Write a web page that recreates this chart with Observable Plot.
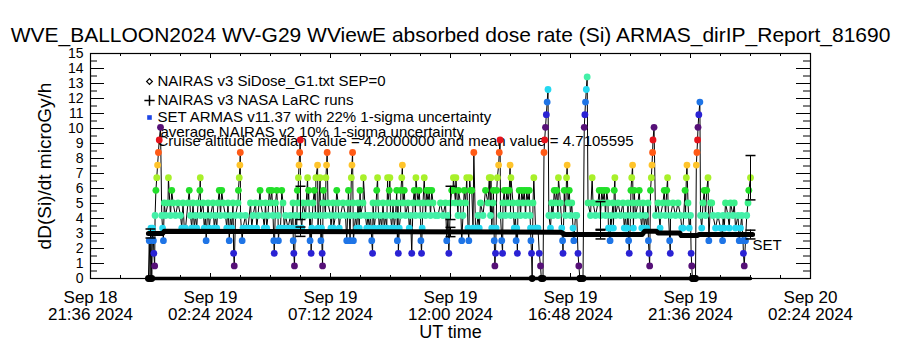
<!DOCTYPE html>
<html><head><meta charset="utf-8">
<script src="https://cdn.jsdelivr.net/npm/d3@7"></script>
<script src="https://cdn.jsdelivr.net/npm/@observablehq/plot@0.6"></script>
<style>
body{margin:0;background:#fff;}
#chart svg{display:block;}
</style></head><body><div id="chart"></div>
<script>
// ---------- texts ----------
const title = "WVE_BALLOON2024 WV-G29 WViewE absorbed dose rate (Si) ARMAS_dirIP_Report_81690";
const yLabel = "dD(Si)/dt microGy/h";
const xLabel = "UT time";
const legend1 = "NAIRAS v3 SiDose_G1.txt SEP=0";
const legend2 = "NAIRAS v3 NASA LaRC runs";
const legend3 = "SET ARMAS v11.37 with 22% 1-sigma uncertainty";
const legend4 = "average NAIRAS v2 10% 1-sigma uncertainty";
const legend5 = "Cruise altitude median value = 4.2000000 and mean value = 4.7105595";
const endLabel = "SET";

// ---------- axes ----------
const xStart = "2024-09-18T21:36Z", xEnd = "2024-09-20T02:24Z";
const majorTicks = ["2024-09-18T21:36Z","2024-09-19T02:24Z","2024-09-19T07:12Z","2024-09-19T12:00Z",
  "2024-09-19T16:48Z","2024-09-19T21:36Z","2024-09-20T02:24Z"];
const yTicks = [0,1,2,3,4,5,6,7,8,9,10,11,12,13,14,15];
const yMinorTicks = [0.5,1.5,2.5,3.5,4.5,5.5,6.5,7.5,8.5,9.5,10.5,11.5,12.5,13.5,14.5];

// ---------- ARMAS dose levels and their colours ----------
const levelDose  = [0, 0.84, 1.68, 2.52, 3.36, 4.2, 5.04, 5.88, 6.72, 7.56, 8.4, 9.24, 10.08, 10.92, 11.76, 12.6, 13.44];
const levelColor = ["#000000","#561078","#2a22d4","#1e74e6","#24d8f0","#44f0a8","#3af08a","#22e02a","#a8f02a","#ffc42a","#ff5a16","#e6141c",
                    "#561078","#2a22d4","#1e74e6","#24d8f0","#44f0a8"];

// ---------- ARMAS readings: [minutes after 2024-09-19 00:00 UT, dose µGy/h] ----------
const armas = [
[-5,0],[-3,2.52],[-1,0],[1,3.36],[3,0],[5,3.36],[7,2.52],[8,1.68],[10,0.84],[11,4.2],[13,5.88],[15,6.72],[17,7.56],[19,8.4],[21,9.24],[24,10.08],[27,4.2],[29,3.36],[31,2.52],[33,5.04],
[36,4.2],[42,5.04],[43,6.72],[48,4.2],[51,5.88],[54,5.04],[60,4.2],[66,5.04],[72,4.2],[75,3.36],[78,5.04],[81,3.36],[84,3.36],
[90,5.04],[93,5.88],[96,4.2],[99,3.36],[102,5.04],[105,3.36],[108,4.2],[111,3.36],[114,5.04],[118.5,5.88],[119.5,6.72],[120,4.2],[126,5.04],[129,3.36],[132,4.2],[133.5,2.52],[138,5.04],[141,3.36],[144,4.2],
[150,5.04],[153,3.36],[156,4.2],[159,3.36],[162,5.04],[165,5.88],[168,4.2],[171,5.88],[174,5.04],[180,4.2],[183,3.36],[186,5.04],[189,2.52],[192,4.2],[195,3.36],[198,5.04],[199.5,1.68],[201,0.84],[204,4.2],
[210,5.04],[211,5.88],[213,6.72],[214.5,7.56],[215.5,8.4],[216,4.2],[220,2.52],[222,3.36],[228,4.2],[231,3.36],[234,3.36],[240,5.04],[243,3.36],[246,4.2],[252,5.04],[255,3.36],[258,4.2],[263,5.88],[264,5.04],
[270,4.2],[273,3.36],[276,5.04],[279,3.36],[282,4.2],[285,5.88],[288,5.04],[291,5.88],[294,4.2],[296,2.52],[297,1.68],[300,5.04],[303,5.88],[306,4.2],[307,2.52],[309,3.36],[312,3.36],[315,5.88],[318,5.04],[321,3.36],[324,4.2],
[330,3.36],[336,4.2],[339,3.36],[342,5.04],[342.5,2.52],[344,1.68],[345.5,0.84],[348,4.2],[351,3.36],[352.5,5.88],[354,5.04],[355,6.72],[356.5,7.56],[358,8.4],[359.5,9.24],[360,4.2],[363,3.36],[366,5.04],[372,4.2],[377,6.72],[378,5.04],[379.5,5.88],[383,2.52],[384,4.2],[385.5,1.68],
[387,3.36],[390,5.04],[393,5.88],[396,4.2],[397,6.72],[401,7.56],[402,3.36],[407,6.72],[408,4.2],[409,2.52],[410.5,3.36],[412,1.68],[413,0.84],[414,5.04],[415,5.88],[420,4.2],[421,6.72],[422.5,7.56],[424,8.4],[426,5.04],[432,4.2],[433,3.36],[438,5.04],[439,3.36],[444,4.2],
[447,5.88],[450,5.04],[453,3.36],[456,4.2],[462,5.04],[468,4.2],[471,2.52],[474,5.04],[475,5.88],[479,2.52],[480,4.2],[482,6.72],[483.5,7.56],[485,8.4],[486,5.04],[487,2.52],[492,4.2],[495,3.36],[498,5.04],[501,3.36],[503,5.88],[504,4.2],
[510,5.04],[511,6.72],[516,4.2],[519,3.36],[522,4.2],[525,3.36],[528,4.2],[531,2.52],[533,1.68],[534,5.04],[537,3.36],[540,4.2],[543,5.88],[545,6.72],[546,5.04],[549,3.36],[552,4.2],[555,3.36],[558,5.04],[561,3.36],[564,4.2],
[567,3.36],[569,6.72],[570,5.04],[573,5.88],[574.5,6.72],[576,4.2],[579,3.36],[582,5.04],[585,3.36],[588,4.2],[591,5.88],[592.5,2.52],[594,5.04],[594.8,1.68],[597,3.36],[600,4.2],[601,5.88],[603,6.72],[604.5,7.56],[606,5.04],[609,5.88],[612,4.2],[618,5.04],[621,3.36],[624,4.2],
[627,1.68],[630,5.04],[633,5.88],[636,4.2],[637,6.72],[642,5.04],[645,5.88],[648,4.2],[649,2.52],[650.5,1.68],[652,3.36],[654,5.04],[657,6.72],[660,4.2],[663,5.88],[666,5.04],[669,5.88],[672,4.2],[675,5.88],[678,5.04],[684,4.2],
[690,4.2],[696,5.04],[702,4.2],[708,5.04],[711,2.52],[714,4.2],[716,1.68],[720,5.04],[723,5.88],[726,5.88],[727,6.72],[732,5.04],[733,6.72],[738,4.2],[739,5.88],[744,5.04],
[747,2.52],[750,4.2],[753,5.88],[756,5.04],[759,6.72],[762,3.36],[764,2.52],[766,6.72],[768,5.88],[771,5.88],[774,3.36],[776,8.4],[780,3.36],[783,3.36],[786,4.2],[789,3.36],[792,5.04],[798,4.2],[804,5.88],
[810,5.04],[813,6.72],[816,4.2],[817,6.72],[819,3.36],[822,5.04],[823,5.88],[825,2.52],[826.5,0.84],[828,1.68],[829.5,3.36],[831,5.88],[832.5,6.72],[835.5,7.56],[837,8.4],[839,9.24],[840,4.2],[843,2.52],[845,1.68],[846,5.04],[849,5.88],[852,4.2],[855,5.88],[858,5.04],[861,5.88],[863,7.56],[864,4.2],[865,6.72],
[870,5.04],[873,3.36],[876,4.2],[877.5,2.52],[879,3.36],[880.5,1.68],[882,5.04],[885,5.88],[888,4.2],[891,5.88],[894,5.04],[897,5.88],[900,4.2],[903,5.88],[906,5.04],[909,5.88],[911,4.2],[912,3.36],[913,2.52],[914.5,1.68],[916,0],[918,5.04],[920,6.72],[924,3.36],[927,3.36],
[930,3.36],[933,1.68],[936,0.84],[938,0],[942,0],[944.4,8.4],[946,9.24],[948,10.08],[950,10.92],[952,11.76],[954,12.6],[956,4.2],[960,3.36],[963,5.04],[966,4.2],[969,5.88],[972,5.04],[975,5.88],[978,4.2],[979,6.72],[984,5.04],
[987,3.36],[989,2.52],[990,1.68],[993,5.88],[996,4.2],[998.5,6.72],[1000,7.56],[1002,5.04],[1005,5.88],[1008,4.2],[1011,5.04],[1014,3.36],[1016,2.52],[1020,4.2],[1023,4.2],[1026,1.68],[1028,0.84],[1030.5,0],[1032,0],[1038,0],[1041,10.08],[1042.5,10.92],[1044,11.76],[1046,12.6],[1048,13.44],
[1050,5.04],[1056,4.2],[1060,6.72],[1062,5.04],[1068,4.2],[1074,5.04],[1077,5.88],[1080,4.2],[1083,5.88],[1086,5.04],[1089,5.88],[1092,4.2],[1095,5.88],[1098,5.04],[1099,3.36],[1103,2.52],[1104,4.2],[1105,3.36],
[1110,5.04],[1111,3.36],[1113,5.88],[1114.5,6.72],[1116,4.2],[1122,5.04],[1128,4.2],[1134,5.04],[1137,3.36],[1140,4.2],[1142,3.36],[1144,3.36],[1146,5.04],[1147.5,2.52],[1149,1.68],[1152,4.2],[1153,5.88],[1155,6.72],[1157,7.56],[1158,5.04],[1159,3.36],[1161,5.88],[1164,4.2],
[1170,5.04],[1173,5.88],[1176,4.2],[1179,3.36],[1182,5.04],[1185,3.36],[1188,4.2],[1191,3.36],[1194,5.04],[1195,2.52],[1196.5,1.68],[1198,0.84],[1200,5.88],[1202,6.72],[1203.5,7.56],[1205,8.4],[1206,9.24],[1208.5,10.08],[1212,4.2],[1218,5.04],[1223,3.36],[1224,4.2],
[1230,5.04],[1233,5.88],[1236,4.2],[1239,5.88],[1241,6.72],[1242,5.04],[1246,2.52],[1247.5,1.68],[1248,4.2],[1254,5.04],[1260,4.2],[1266,5.04],[1272,4.2],[1275,3.36],[1278,3.36],[1283,5.88],[1284,4.2],
[1286,6.72],[1287.5,7.56],[1290,5.04],[1293,3.36],[1296,4.2],[1297.5,1.68],[1299,0.84],[1300.5,0],[1302,0],[1305,0],[1308,0],[1310,7.56],[1311.5,8.4],[1313,9.24],[1314,10.08],[1316,10.92],[1318.5,11.76],[1320,4.2],[1323,3.36],[1326,5.04],[1329,5.88],[1332,4.2],[1335,5.88],[1338,6.72],[1340,2.52],[1344,5.04],
[1347,5.04],[1350,4.2],[1356,3.36],[1362,4.2],[1368,3.36],[1373,2.52],[1374,4.2],[1377,3.36],[1380,5.04],[1386,4.2],[1389,3.36],[1392,5.04],[1398,4.2],[1401,5.04],[1404,3.36],
[1410,4.2],[1413,2.52],[1416,3.36],[1419,4.2],[1422,2.52],[1423,1.68],[1425,0.84],[1428,2.52],[1431,4.2],[1434,5.04],[1436,5.88],[1440,6.72]
];

// ---------- NAIRAS v3 SiDose model: [minutes after 2024-09-19 00:00 UT, dose] ----------
const nairas = [[-5,3.0],[29,3.0],[33,3.15],[600,3.12],[985,3.08],[995,2.93],[1180,2.93],[1186,3.15],[1214,3.15],[1218,3.04],
  [1270,3.04],[1274,2.86],[1312,2.86],[1316,2.93],[1445,2.93]];
// ---------- NAIRAS v3 NASA LaRC runs ----------
const larcMinutes = [-5,60,120,180,240,300,360,420,480,540,600,660,720,780,840,900,960,1020,1080,1140,1200,1260,1320,1380,1440];
const larcDose    = [0,0,0,0,0,0,0,0,0,0,0,0,0,0,0,0,0,0,0,0,0,0,0,0,0];
// ---------- uncertainty bars ----------
const barMinutes    = [0, 360, 720, 1080, 1440];
const armasBarDose  = [0, 5.04, 5.04, 4.2, 6.72];
const nairasBarDose = [3.0, 3.12, 3.1, 2.93, 2.93];
const armasSigma = 0.22, nairasSigma = 0.10;

// ---------- build ----------
const base = Date.UTC(2024, 8, 19, 0, 0);
const toDate = m => new Date(base + m * 60000);
const armasData = armas.map(([m, v]) => ({t: toDate(m), v}));
const nairasData = nairas.map(([m, v]) => ({t: toDate(m), v}));
const larcData = larcMinutes.map((m, i) => ({t: toDate(m), v: larcDose[i]}));
const armasBars = barMinutes.map((m, i) => ({t: toDate(m), lo: armasBarDose[i] * (1 - armasSigma), hi: armasBarDose[i] * (1 + armasSigma)}));
const nairasBars = barMinutes.map((m, i) => ({t: toDate(m), lo: nairasBarDose[i] * (1 - nairasSigma), hi: nairasBarDose[i] * (1 + nairasSigma)}));
const majors = majorTicks.map(s => new Date(s));
const minors = [];
for (let i = 0; i < majors.length - 1; i++) for (let j = 1; j < 4; j++) minors.push(new Date(+majors[i] + j * (majors[i+1] - majors[i]) / 4));
const capSymbol = {draw(ctx, size) { const w = Math.sqrt(size / Math.PI); ctx.moveTo(-w, 0); ctx.lineTo(w, 0); }};
const lastN = nairasData[nairasData.length - 1];

const FH = 225, FW = 720;
const legendText = (s, dx, dy) => Plot.text([s], {frameAnchor: "top-left", dx, dy, textAnchor: "start", lineAnchor: "middle", fontSize: 15});
const chart = Plot.plot({
  width: 900, height: 350,
  marginLeft: 90, marginRight: 90, marginTop: 53, marginBottom: 72,
  style: {fontFamily: "'Liberation Sans', Arial, sans-serif", color: "black", background: "white", overflow: "visible"},
  x: {type: "utc", domain: [new Date(xStart), new Date(xEnd)], label: null},
  y: {domain: [0, 15], label: null},
  color: {type: "ordinal", domain: levelDose, range: levelColor},
  marks: [
    // legend
    Plot.dot([0], {frameAnchor: "top-left", dx: 59, dy: 28, symbol: "diamond2", r: 2.6, stroke: "black", strokeWidth: 1.2, fill: "none"}),
    Plot.dot([0], {frameAnchor: "top-left", dx: 59, dy: 47, symbol: "plus", r: 3.4, stroke: "black", strokeWidth: 1.5}),
    Plot.dot([0], {frameAnchor: "top-left", dx: 59, dy: 64, symbol: "square", r: 2.6, fill: "#1e46e6"}),
    legendText(legend1, 67, 28),
    legendText(legend2, 67, 47),
    legendText(legend3, 67, 64),
    legendText(legend4, 70, 79),
    legendText(legend5, 67, 88),
    // ARMAS
    Plot.line(armasData, {x: "t", y: "v", stroke: "black", strokeWidth: 1}),
    Plot.dot(armasData, {x: "t", y: "v", fill: "v", r: 3.4}),
    // NAIRAS model and LaRC runs
    Plot.line(nairasData, {x: "t", y: "v", stroke: "black", strokeWidth: 5}),
    Plot.line(larcData, {x: "t", y: "v", stroke: "black", strokeWidth: 3.5}),
    Plot.text([lastN], {x: "t", y: "v", text: () => endLabel, textAnchor: "start", dx: 0, dy: 11, fontSize: 15}),
    // uncertainty bars
    Plot.ruleX(armasBars, {x: "t", y1: "lo", y2: "hi", stroke: "black", strokeWidth: 1}),
    Plot.dot(armasBars, {x: "t", y: "lo", symbol: capSymbol, r: 5, stroke: "black", fill: "none"}),
    Plot.dot(armasBars, {x: "t", y: "hi", symbol: capSymbol, r: 5, stroke: "black", fill: "none"}),
    Plot.ruleX(nairasBars, {x: "t", y1: "lo", y2: "hi", stroke: "black", strokeWidth: 1}),
    Plot.dot(nairasBars, {x: "t", y: "lo", symbol: capSymbol, r: 5, stroke: "black", fill: "none"}),
    Plot.dot(nairasBars, {x: "t", y: "hi", symbol: capSymbol, r: 5, stroke: "black", fill: "none"}),
    // frame and inward ticks
    Plot.frame({stroke: "black", strokeWidth: 1.2}),
    Plot.ruleX(majors, {x: d => d, insetTop: FH - 5, stroke: "black"}),
    Plot.ruleX(minors, {x: d => d, insetTop: FH - 3, stroke: "black"}),
    Plot.ruleX(majors, {x: d => d, insetBottom: FH - 5, stroke: "black"}),
    Plot.ruleX(minors, {x: d => d, insetBottom: FH - 3, stroke: "black"}),
    Plot.ruleY(yTicks, {y: d => d, insetRight: FW - 14, stroke: "black"}),
    Plot.ruleY(yMinorTicks, {y: d => d, insetRight: FW - 7, stroke: "black"}),
    Plot.ruleY(yTicks, {y: d => d, insetLeft: FW - 14, stroke: "black"}),
    Plot.ruleY(yMinorTicks, {y: d => d, insetLeft: FW - 7, stroke: "black"}),
    // axes labels
    Plot.axisX({ticks: majors, tickSize: 0, tickPadding: 12, fontSize: 17, label: null,
      tickFormat: d3.utcFormat("%b %d\n%H:%M %Y")}),
    Plot.axisY({ticks: yTicks, tickSize: 0, tickPadding: 7, fontSize: 14, label: null}),
    Plot.text([xLabel], {frameAnchor: "bottom", dy: 54, textAnchor: "middle", lineAnchor: "middle", fontSize: 18}),
    Plot.text([yLabel], {frameAnchor: "left", dx: -46, rotate: -90, textAnchor: "middle", lineAnchor: "middle", fontSize: 19}),
    Plot.text([title], {frameAnchor: "top", dy: -18, textAnchor: "middle", lineAnchor: "middle", fontSize: 21})
  ]
});
document.getElementById("chart").appendChild(chart);
</script>
</body></html>
